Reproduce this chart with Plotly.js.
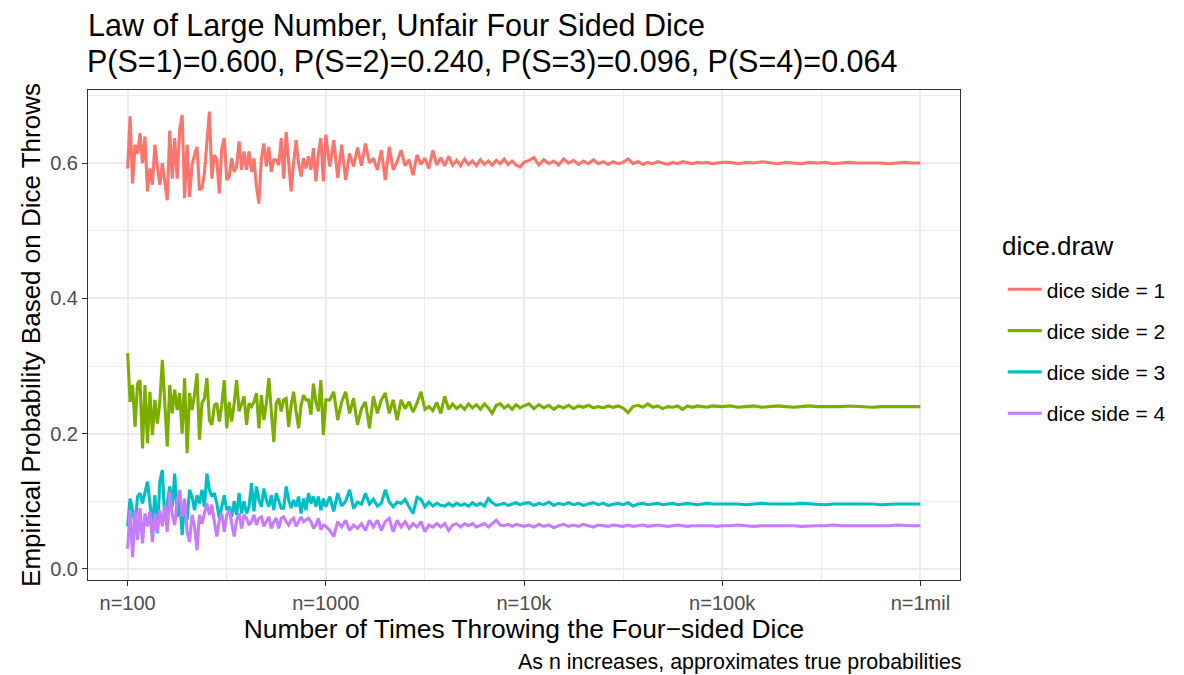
<!DOCTYPE html>
<html>
<head>
<meta charset="utf-8">
<script src="https://cdn.plot.ly/plotly-3.0.1.min.js"></script>
<style>html,body{margin:0;padding:0;background:#fff;}#chart{width:1184px;height:675px;}</style>
</head>
<body>
<div id="chart"></div>
<script>
// x: log10 of the number of throws n (n = 100 ... 1,000,000)
const log10Throws = [
2.0000,2.0125,2.0250,2.0375,2.0500,2.0625,2.0750,2.0875,2.1000,2.1125,
2.1250,2.1375,2.1500,2.1625,2.1750,2.1875,2.2000,2.2125,2.2250,2.2375,
2.2500,2.2625,2.2750,2.2875,2.3000,2.3125,2.3250,2.3375,2.3500,2.3625,
2.3750,2.3875,2.4000,2.4125,2.4250,2.4375,2.4500,2.4625,2.4750,2.4875,
2.5000,2.5125,2.5250,2.5375,2.5500,2.5625,2.5750,2.5875,2.6000,2.6125,
2.6250,2.6375,2.6500,2.6625,2.6750,2.6875,2.7000,2.7125,2.7250,2.7375,
2.7500,2.7625,2.7750,2.7875,2.8000,2.8125,2.8250,2.8375,2.8500,2.8625,
2.8750,2.8875,2.9000,2.9125,2.9250,2.9375,2.9500,2.9625,2.9750,2.9875,
3.0000,
3.02,3.04,3.06,3.08,3.10,3.12,3.14,3.16,3.18,3.20,
3.22,3.24,3.26,3.28,3.30,3.32,3.34,3.36,3.38,3.40,
3.42,3.44,3.46,3.48,3.50,3.52,3.54,3.56,3.58,3.60,
3.62,3.64,3.66,3.68,3.70,3.72,3.74,3.76,3.78,3.80,
3.82,3.84,3.86,3.88,3.90,3.92,3.94,3.96,3.98,4.00,
4.025,4.05,4.075,4.1,4.125,4.15,4.175,4.2,4.225,4.25,
4.275,4.3,4.325,4.35,4.375,4.4,4.425,4.45,4.475,4.5,
4.525,4.55,4.575,4.6,4.625,4.65,4.675,4.7,4.725,4.75,
4.775,4.8,4.825,4.85,4.875,4.9,4.925,4.95,4.975,5.0,
5.04,5.08,5.12,5.16,5.2,5.24,5.28,5.32,5.36,5.4,
5.44,5.48,5.52,5.56,5.6,5.64,5.68,5.72,5.76,5.8,
5.84,5.88,5.92,5.96,6.0
];

const side1 = [
0.592,0.669,0.570,0.627,0.614,0.644,0.600,0.639,0.558,0.592,
0.568,0.627,0.595,0.568,0.600,0.568,0.545,0.648,0.577,0.637,
0.577,0.649,0.671,0.548,0.627,0.550,0.597,0.612,0.624,0.560,
0.563,0.585,0.629,0.676,0.577,0.612,0.605,0.555,0.622,0.637,
0.575,0.580,0.607,0.587,0.595,0.632,0.590,0.617,0.590,0.617,
0.587,0.607,0.565,0.540,0.607,0.629,0.595,0.624,0.587,0.605,
0.605,0.597,0.637,0.577,0.646,0.595,0.558,0.600,0.634,0.600,
0.580,0.607,0.592,0.610,0.590,0.622,0.573,0.614,0.637,0.573,
0.642,
0.595,0.634,0.578,0.627,0.575,0.614,0.595,0.623,0.596,0.629,
0.600,0.607,0.590,0.619,0.575,0.624,0.590,0.602,0.619,0.596,
0.605,0.582,0.612,0.598,0.607,0.592,0.619,0.597,0.608,0.596,
0.610,0.597,0.604,0.596,0.606,0.598,0.603,0.596,0.605,0.598,
0.603,0.597,0.604,0.599,0.606,0.598,0.603,0.597,0.594,0.601,
0.604,0.608,0.597,0.605,0.599,0.603,0.597,0.606,0.600,0.604,
0.598,0.603,0.599,0.605,0.599,0.602,0.598,0.602,0.599,0.601,
0.606,0.599,0.602,0.598,0.601,0.599,0.602,0.600,0.598,0.601,
0.599,0.602,0.600,0.599,0.601,0.600,0.601,0.599,0.600,0.601,
0.601,0.599,0.601,0.600,0.602,0.600,0.599,0.601,0.600,0.599,
0.601,0.600,0.601,0.599,0.600,0.601,0.600,0.600,0.601,0.600,
0.599,0.600,0.601,0.600,0.600
];

const side2 = [
0.319,0.247,0.272,0.210,0.274,0.279,0.178,0.272,0.186,0.262,
0.198,0.250,0.215,0.247,0.309,0.233,0.181,0.272,0.230,0.265,
0.235,0.260,0.200,0.282,0.171,0.260,0.235,0.257,0.289,0.191,
0.245,0.252,0.282,0.220,0.213,0.242,0.245,0.218,0.242,0.279,
0.208,0.247,0.218,0.245,0.279,0.233,0.245,0.255,0.213,0.245,
0.240,0.247,0.260,0.208,0.257,0.220,0.245,0.282,0.233,0.188,
0.245,0.252,0.233,0.250,0.252,0.210,0.242,0.262,0.233,0.208,
0.242,0.257,0.250,0.250,0.228,0.274,0.247,0.233,0.279,0.198,
0.250,
0.250,0.262,0.220,0.247,0.262,0.230,0.252,0.213,0.237,0.247,
0.208,0.255,0.230,0.250,0.260,0.230,0.250,0.220,0.250,0.237,
0.247,0.232,0.245,0.262,0.236,0.240,0.234,0.246,0.230,0.255,
0.236,0.244,0.237,0.242,0.236,0.244,0.238,0.243,0.236,0.244,
0.238,0.230,0.242,0.244,0.238,0.242,0.236,0.243,0.238,0.241,
0.244,0.237,0.243,0.238,0.242,0.236,0.241,0.238,0.242,0.237,
0.241,0.239,0.242,0.238,0.240,0.238,0.241,0.239,0.241,0.238,
0.231,0.240,0.242,0.239,0.244,0.239,0.241,0.237,0.240,0.239,
0.241,0.236,0.241,0.239,0.241,0.240,0.239,0.241,0.240,0.240,
0.241,0.239,0.240,0.241,0.239,0.240,0.241,0.240,0.239,0.240,
0.241,0.240,0.240,0.239,0.240,0.241,0.240,0.240,0.239,0.240,
0.240,0.241,0.240,0.240,0.240
];

const side3 = [
0.063,0.104,0.087,0.065,0.107,0.112,0.097,0.114,0.129,0.097,
0.063,0.109,0.053,0.129,0.146,0.072,0.097,0.122,0.092,0.141,
0.077,0.102,0.050,0.097,0.072,0.117,0.107,0.087,0.109,0.097,
0.117,0.092,0.141,0.117,0.107,0.112,0.097,0.075,0.092,0.109,
0.087,0.092,0.077,0.100,0.080,0.112,0.082,0.100,0.082,0.092,
0.127,0.085,0.122,0.102,0.092,0.119,0.102,0.092,0.109,0.087,
0.112,0.102,0.090,0.090,0.122,0.102,0.090,0.102,0.092,0.107,
0.082,0.104,0.087,0.112,0.097,0.107,0.092,0.107,0.087,0.104,
0.092,
0.107,0.085,0.112,0.093,0.100,0.117,0.089,0.099,0.096,0.112,
0.096,0.103,0.093,0.097,0.117,0.099,0.092,0.099,0.097,0.103,
0.092,0.082,0.106,0.103,0.092,0.099,0.093,0.097,0.094,0.093,
0.097,0.093,0.097,0.094,0.096,0.093,0.098,0.094,0.097,0.093,
0.104,0.098,0.094,0.096,0.097,0.094,0.096,0.098,0.095,0.097,
0.098,0.094,0.097,0.095,0.099,0.094,0.097,0.095,0.098,0.095,
0.097,0.094,0.096,0.098,0.095,0.097,0.094,0.096,0.097,0.095,
0.098,0.093,0.096,0.097,0.095,0.096,0.097,0.095,0.096,0.097,
0.095,0.096,0.097,0.096,0.095,0.096,0.097,0.096,0.096,0.096,
0.097,0.096,0.095,0.096,0.097,0.096,0.096,0.095,0.096,0.097,
0.096,0.096,0.095,0.096,0.096,0.097,0.096,0.096,0.096,0.095,
0.096,0.096,0.096,0.096,0.096
];

const side4 = [
0.030,0.087,0.018,0.087,0.043,0.090,0.038,0.082,0.063,0.085,
0.040,0.082,0.055,0.087,0.063,0.095,0.055,0.114,0.080,0.065,
0.102,0.117,0.077,0.104,0.055,0.040,0.080,0.063,0.028,0.080,
0.067,0.082,0.097,0.080,0.095,0.070,0.048,0.072,0.082,0.055,
0.080,0.087,0.065,0.048,0.072,0.082,0.060,0.080,0.075,0.065,
0.070,0.080,0.065,0.075,0.077,0.063,0.070,0.077,0.060,0.070,
0.075,0.060,0.075,0.077,0.070,0.065,0.072,0.075,0.063,0.070,
0.077,0.070,0.072,0.075,0.070,0.060,0.065,0.075,0.058,0.065,
0.063,
0.057,0.048,0.070,0.062,0.072,0.057,0.065,0.060,0.067,0.057,
0.072,0.062,0.072,0.057,0.070,0.075,0.055,0.072,0.062,0.070,
0.060,0.067,0.062,0.070,0.055,0.065,0.062,0.067,0.062,0.067,
0.057,0.065,0.067,0.062,0.067,0.064,0.067,0.062,0.065,0.067,
0.062,0.067,0.072,0.065,0.064,0.066,0.063,0.066,0.064,0.063,
0.065,0.062,0.066,0.063,0.065,0.061,0.064,0.066,0.063,0.065,
0.063,0.066,0.064,0.062,0.065,0.064,0.063,0.065,0.064,0.063,
0.065,0.063,0.064,0.065,0.063,0.064,0.065,0.064,0.063,0.064,
0.065,0.064,0.063,0.064,0.064,0.065,0.064,0.064,0.063,0.064,
0.064,0.065,0.064,0.063,0.064,0.064,0.065,0.064,0.064,0.063,
0.064,0.064,0.064,0.065,0.064,0.064,0.063,0.064,0.064,0.064,
0.064,0.065,0.064,0.064,0.064
];

const seriesNames = ['dice side = 1','dice side = 2','dice side = 3','dice side = 4'];
const seriesColors = ['#F8766D','#7CAE00','#00BFC4','#C77CFF'];
const xTickVals = [2,3,4,5,6];
const xTickText = ['n=100','n=1000','n=10k','n=100k','n=1mil'];
const yTickVals = [0,0.2,0.4,0.6];
const titleLine1 = 'Law of Large Number, Unfair Four Sided Dice';
const titleLine2 = 'P(S=1)=0.600, P(S=2)=0.240, P(S=3)=0.096, P(S=4)=0.064';
const legendTitle = 'dice.draw';
const captionText = 'As n increases, approximates true probabilities';

const FONT = '"Liberation Sans", Arial, Helvetica, sans-serif';
const allSeries = [side1, side2, side3, side4];
const traces = allSeries.map((ys, i) => ({
  type: 'scatter', mode: 'lines',
  x: log10Throws, y: ys,
  name: seriesNames[i],
  legendgroup: 'g' + i,
  line: {color: seriesColors[i], width: 3.1},
  hoverinfo: 'skip'
}));

const layout = {
  width: 1184, height: 675,
  margin: {l: 88, r: 224, t: 90, b: 95},
  paper_bgcolor: '#ffffff', plot_bgcolor: '#ffffff',
  font: {family: FONT, color: '#000000'},
  showlegend: true,
  title: {
    text: titleLine1,
    font: {family: FONT, size: 30.5, color: '#000000'},
    xref: 'paper', x: 0, xanchor: 'left',
    yref: 'container', y: 0.962, yanchor: 'middle'
  },
  xaxis: {
    range: [1.8, 6.2],
    tickmode: 'array', tickvals: xTickVals, ticktext: xTickText,
    tickfont: {family: FONT, size: 20, color: '#4D4D4D'},
    ticks: 'outside', ticklen: 5, tickcolor: '#333333', tickwidth: 1,
    showgrid: true, gridcolor: '#EBEBEB', gridwidth: 2,
    minor: {dtick: 0.5, tick0: 2, showgrid: true, gridcolor: '#EBEBEB', gridwidth: 1, ticks: ''},
    showline: true, mirror: true, linecolor: '#333333', linewidth: 1,
    zeroline: false,
    title: {text: 'Number of Times Throwing the Four\u2212sided Dice', font: {family: FONT, size: 26.4, color: '#000000'}, standoff: 4}
  },
  yaxis: {
    range: [-0.0163, 0.708],
    tickmode: 'array', tickvals: yTickVals, tickformat: '.1f',
    tickfont: {family: FONT, size: 20, color: '#4D4D4D'},
    ticks: 'outside', ticklen: 5, tickcolor: '#333333', tickwidth: 1,
    showgrid: true, gridcolor: '#EBEBEB', gridwidth: 2,
    minor: {dtick: 0.1, tick0: 0, showgrid: true, gridcolor: '#EBEBEB', gridwidth: 1, ticks: ''},
    showline: true, mirror: true, linecolor: '#333333', linewidth: 1,
    zeroline: false,
    title: {text: 'Empirical Probability Based on Dice Throws', font: {family: FONT, size: 26, color: '#000000'}, standoff: 2}
  },
  legend: {
    font: {family: FONT, size: 21, color: '#000000'},
    x: 1.049, xanchor: 'left', y: 0.466, yanchor: 'middle',
    itemwidth: 34,
    tracegroupgap: 11, bgcolor: 'rgba(0,0,0,0)', borderwidth: 0
  },
  annotations: [
    {
      text: titleLine2,
      xref: 'paper', yref: 'paper', x: -0.0034, y: 1.0585,
      xanchor: 'left', yanchor: 'middle', showarrow: false,
      font: {family: FONT, size: 30.5, color: '#000000'}
    },
    {
      text: legendTitle,
      xref: 'paper', yref: 'paper', x: 1.046, y: 0.6816,
      xanchor: 'left', yanchor: 'middle', showarrow: false,
      font: {family: FONT, size: 26, color: '#000000'}
    },
    {
      text: captionText,
      xref: 'paper', yref: 'paper', x: 1.003, y: -0.167,
      xanchor: 'right', yanchor: 'middle', showarrow: false,
      font: {family: FONT, size: 21.4, color: '#000000'}
    }
  ]
};

Plotly.newPlot('chart', traces, layout, {staticPlot: true, displayModeBar: false});
</script>
</body>
</html>
